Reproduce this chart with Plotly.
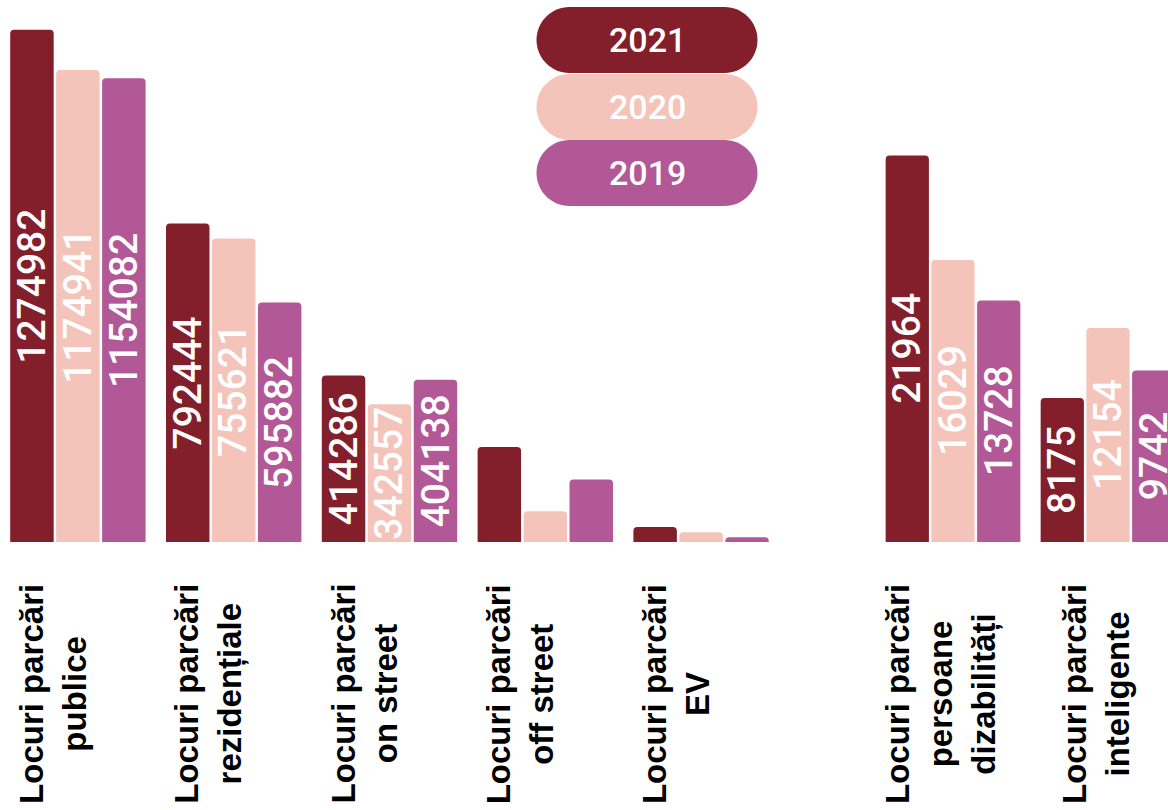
import plotly.graph_objects as go

# ---------------- data ----------------
years = ["2021", "2020", "2019"]
colors = ["#831E2B", "#F4C4BB", "#B35896"]

cats_main = [
    "Locuri parcări<br>publice",
    "Locuri parcări<br>rezidențiale",
    "Locuri parcări<br>on street",
    "Locuri parcări<br>off street",
    "Locuri parcări<br>EV",
]
main_2021 = [1274982, 792444, 414286, 236500, 37400]
main_2020 = [1174941, 755621, 342557, 76400, 24100]
main_2019 = [1154082, 595882, 404138, 155300, 11700]
main_labelled = [True, True, True, False, False]

cats_side = [
    "Locuri parcări<br>persoane<br>dizabilități",
    "Locuri parcări<br>inteligente",
]
side_2021 = [21964, 8175]
side_2020 = [16029, 12154]
side_2019 = [13728, 9742]
side_labelled = [True, True]

main_vals = [main_2021, main_2020, main_2019]
side_vals = [side_2021, side_2020, side_2019]

# ---------------- geometry ----------------
W, H = 1168, 810
plot_h = 542

fig = go.Figure()
for i, yr in enumerate(years):
    fig.add_trace(go.Bar(x=cats_main, y=main_vals[i], name=yr,
                         marker=dict(color=colors[i], line=dict(width=0)),
                         xaxis="x", yaxis="y", hoverinfo="skip"))
for i, yr in enumerate(years):
    fig.add_trace(go.Bar(x=cats_side, y=side_vals[i], name=yr,
                         marker=dict(color=colors[i], line=dict(width=0)),
                         xaxis="x2", yaxis="y2", hoverinfo="skip"))

annotations = []
bar_font = dict(family="Roboto", size=39, color="white", weight=500)
slot = 46
for i in range(3):
    for j, c in enumerate(cats_main):
        if main_labelled[j]:
            v = main_vals[i][j]
            annotations.append(dict(x=c, y=v / 2, xref="x", yref="y", text=str(v),
                                    textangle=-90, showarrow=False, font=bar_font,
                                    xanchor="center", yanchor="middle",
                                    xshift=(i - 1) * slot))
    for j, c in enumerate(cats_side):
        if side_labelled[j]:
            v = side_vals[i][j]
            annotations.append(dict(x=c, y=v / 2, xref="x2", yref="y2", text=str(v),
                                    textangle=-90, showarrow=False, font=bar_font,
                                    xanchor="center", yanchor="middle",
                                    xshift=(i - 1) * slot))

cat_font = dict(family="Liberation Sans, Arial", size=33, color="black", weight="bold")
cat_y = (plot_h - 582) / plot_h
for c in cats_main:
    annotations.append(dict(x=c, y=cat_y, xref="x", yref="paper", text=c,
                            textangle=-90, showarrow=False, yanchor="top",
                            xanchor="center", align="center", font=cat_font, xshift=-25))
for c in cats_side:
    annotations.append(dict(x=c, y=cat_y, xref="x2", yref="paper", text=c,
                            textangle=-90, showarrow=False, yanchor="top",
                            xanchor="center", align="center", font=cat_font, xshift=-12))

# legend pills
pill = ("M -77.5,-33 L 77.5,-33 C 95.7,-33 110.5,-18.2 110.5,0 "
        "C 110.5,18.2 95.7,33 77.5,33 L -77.5,33 C -95.7,33 -110.5,18.2 -110.5,0 "
        "C -110.5,-18.2 -95.7,-33 -77.5,-33 Z")
shapes = []
leg_x = 647 / W
leg_py = [40, 107, 173]
for i, yr in enumerate(years):
    yp = (plot_h - leg_py[i]) / plot_h
    shapes.append(dict(type="path", xref="paper", yref="paper", xsizemode="pixel",
                       ysizemode="pixel", xanchor=leg_x, yanchor=yp, path=pill,
                       fillcolor=colors[i], line=dict(width=0), layer="above"))
    annotations.append(dict(x=leg_x, y=yp, xref="paper", yref="paper", text=yr,
                            showarrow=False, xanchor="center", yanchor="middle",
                            font=dict(family="Roboto", size=34, color="white", weight=500)))

pitch = 155.8
fig.update_layout(
    width=W, height=H,
    margin=dict(l=0, r=0, t=0, b=H - plot_h),
    paper_bgcolor="white", plot_bgcolor="white",
    barmode="group", bargap=0.115, bargroupgap=0.054, barcornerradius=4,
    showlegend=False,
    xaxis=dict(domain=[0, 779 / W], type="category",
               range=[-0.5, -0.5 + 779 / pitch],
               visible=False, anchor="y"),
    yaxis=dict(domain=[0, 1], range=[0, 1349000], visible=False, anchor="x"),
    xaxis2=dict(domain=[875.5 / W, 1], type="category",
                range=[-0.5, -0.5 + (W - 875.5) / 155],
                visible=False, anchor="y2"),
    yaxis2=dict(domain=[0, 1], range=[0, 30795], visible=False, anchor="x2"),
    annotations=annotations,
    shapes=shapes,
)

fig.write_html("out.html",
               config={"displayModeBar": False},
               post_script="document.body.style.margin='0';document.body.style.overflow='hidden';")
